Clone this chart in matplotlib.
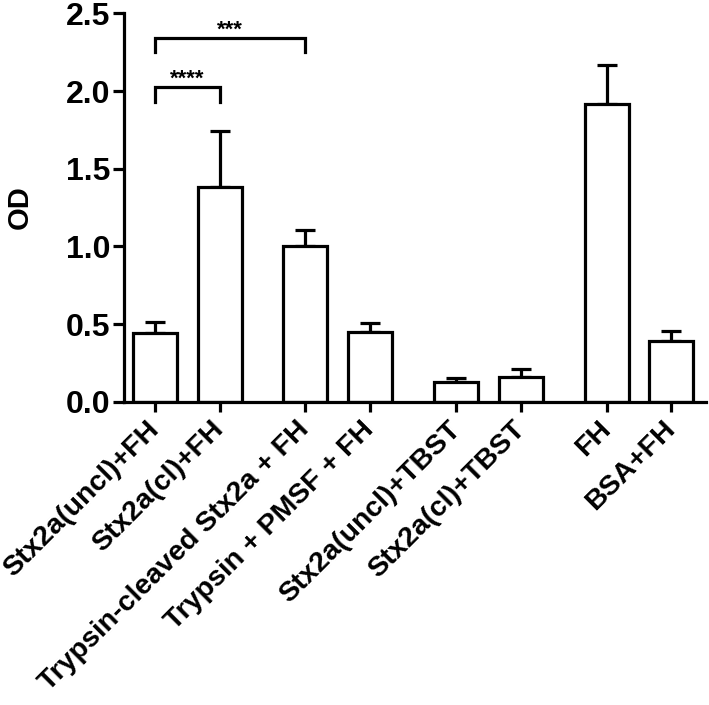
import matplotlib
matplotlib.use("Agg")
import matplotlib.pyplot as plt

plt.rcParams["font.family"] = ["Liberation Sans", "DejaVu Sans"]
plt.rcParams["font.weight"] = "bold"

# -- data ----------------------------------------------------------------------
labels = ["Stx2a(uncl)+FH", "Stx2a(cl)+FH", "Trypsin-cleaved Stx2a + FH",
          "Trypsin + PMSF + FH", "Stx2a(uncl)+TBST", "Stx2a(cl)+TBST",
          "FH", "BSA+FH"]
positions = [0, 1, 2.33, 3.33, 4.67, 5.67, 7, 8]
means = [0.44, 1.385, 1.0, 0.45, 0.13, 0.163, 1.92, 0.39]
errors = [0.075, 0.36, 0.105, 0.055, 0.025, 0.05, 0.25, 0.065]

# significance brackets: (left index, right index, bar y, drop y, label)
brackets = [(0, 1, 2.025, 1.93, "****"),
            (0, 2, 2.34, 2.25, "***")]

LW = 2.3

fig = plt.figure(figsize=(7.09, 7.05), dpi=100)
ax = fig.add_axes([0.175, 0.43, 0.821, 0.551])

ax.errorbar(positions, means, yerr=[[0] * len(errors), errors], fmt="none",
            ecolor="black", elinewidth=LW, capsize=7.5, capthick=LW, zorder=1)
ax.bar(positions, means, width=0.68, color="white", edgecolor="black",
       linewidth=LW, zorder=2)

for i, j, yb, yd, txt in brackets:
    x1, x2 = positions[i], positions[j]
    ax.plot([x1, x1, x2, x2], [yd, yb, yb, yd], color="black", lw=LW,
            solid_joinstyle="miter", clip_on=False)
    ax.text((x1 + x2) / 2, yb + 0.015, txt, ha="center", va="baseline",
            fontsize=16, fontweight="bold")

ax.set_xlim(-0.48, 8.54)
ax.set_ylim(0, 2.5)
ax.set_yticks([0.0, 0.5, 1.0, 1.5, 2.0, 2.5])
ax.set_yticklabels(["0.0", "0.5", "1.0", "1.5", "2.0", "2.5"])
ax.set_xticks(positions)
ax.set_xticklabels(labels, rotation=45, ha="right", va="center",
                   rotation_mode="anchor")

for sp in ["top", "right"]:
    ax.spines[sp].set_visible(False)
for sp in ["left", "bottom"]:
    ax.spines[sp].set_linewidth(LW)

ax.tick_params(axis="y", length=8, width=LW, labelsize=23, pad=2)
ax.tick_params(axis="x", length=7, width=LW, labelsize=20.5, pad=10)
for t in ax.get_xticklabels() + ax.get_yticklabels():
    t.set_fontweight("bold")

ax.set_ylabel("OD", fontsize=21, fontweight="bold")
ax.yaxis.set_label_coords(-0.155, 0.5)

plt.savefig("out.png", dpi=100)
plt.close()
